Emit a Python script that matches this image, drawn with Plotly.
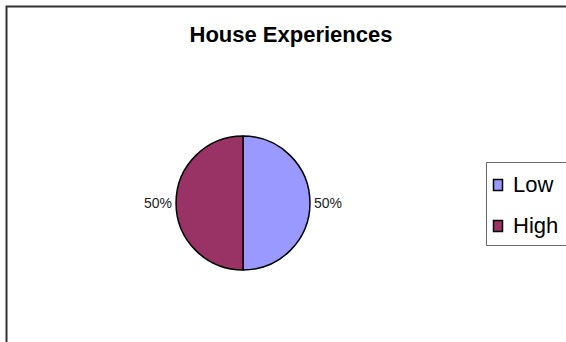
import plotly.graph_objects as go

# Slice data
labels = ["Low", "High"]
values = [50, 50]
colors = ["#9999FF", "#993366"]

W, H = 566, 342


def px(x):
    return x / W


def py(y):
    return 1 - y / H


fig = go.Figure()

fig.add_trace(go.Pie(
    labels=labels,
    values=values,
    marker=dict(colors=colors, line=dict(color="#000000", width=1.5)),
    sort=False,
    direction="clockwise",
    rotation=0,
    textposition="outside",
    texttemplate="%{percent:.0%}",
    textfont=dict(family="Liberation Sans, Arial, sans-serif", size=14, color="#222222"),
    domain=dict(x=[px(118), px(368)], y=[py(270), py(136)]),
    showlegend=False,
    hoverinfo="label+percent",
))

shapes = [
    # chart-area frame
    dict(type="rect", xref="paper", yref="paper",
         x0=px(6.5), x1=px(620), y0=py(6.5), y1=py(400),
         line=dict(color="#333333", width=2), fillcolor="rgba(0,0,0,0)"),
    # legend box
    dict(type="rect", xref="paper", yref="paper",
         x0=px(486.5), x1=px(600), y0=py(162.5), y1=py(245.5),
         line=dict(color="#666666", width=1), fillcolor="#ffffff"),
]
annotations = []

# legend entries built from the slice lists
legend_rows = [185, 226]
for lab, col, yc in zip(labels, colors, legend_rows):
    shapes.append(dict(type="rect", xref="paper", yref="paper",
                       x0=px(493.5), x1=px(502.5), y0=py(yc - 5.5), y1=py(yc + 5.5),
                       line=dict(color="#000000", width=1.5), fillcolor=col))
    annotations.append(dict(text=lab, xref="paper", yref="paper",
                            x=px(511), y=py(yc - 1), xanchor="left", yanchor="middle",
                            showarrow=False,
                            font=dict(family="Liberation Sans, Arial, sans-serif",
                                      size=22, color="#000000")))

fig.update_layout(
    width=W, height=H,
    margin=dict(l=0, r=0, t=0, b=0),
    paper_bgcolor="#ffffff",
    plot_bgcolor="#ffffff",
    title=dict(text="<b>House Experiences</b>", x=px(291), y=py(34),
               xanchor="center", yanchor="middle",
               font=dict(family="Liberation Sans, Arial, sans-serif", size=22, color="#000000")),
    shapes=shapes,
    annotations=annotations,
    showlegend=False,
)

fig.write_html("out.html")
